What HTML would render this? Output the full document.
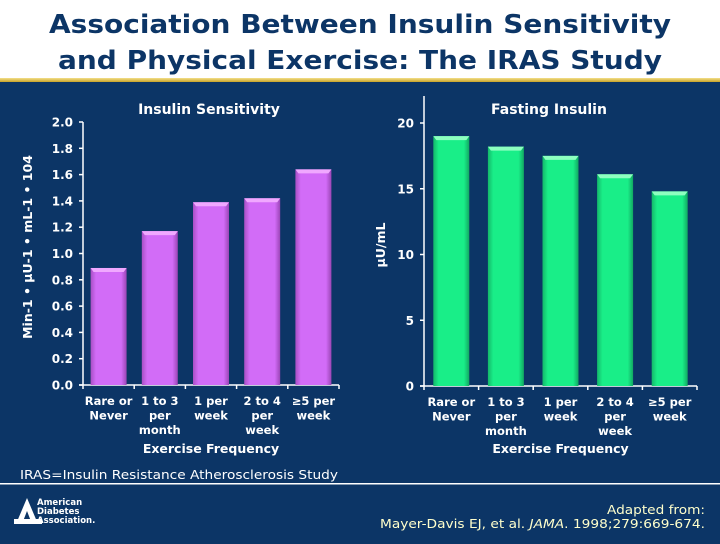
<!DOCTYPE html>
<html><head><meta charset="utf-8"><style>
html,body{margin:0;padding:0;}
body{width:720px;height:540px;background:#0c3566;overflow:hidden;font-family:"DejaVu Sans",sans-serif;}
svg text{font-family:"DejaVu Sans","Liberation Sans",sans-serif;}
</style></head><body>
<svg width="720" height="540" xmlns="http://www.w3.org/2000/svg">
<defs>
<linearGradient id="pg" x1="0" x2="1"><stop offset="0" stop-color="#a84fc4"/><stop offset="0.15" stop-color="#d26cf7"/><stop offset="0.85" stop-color="#d26cf7"/><stop offset="1" stop-color="#9a45b5"/></linearGradient>
<linearGradient id="gg" x1="0" x2="1"><stop offset="0" stop-color="#14b86a"/><stop offset="0.15" stop-color="#19ee88"/><stop offset="0.85" stop-color="#19ee88"/><stop offset="1" stop-color="#12a862"/></linearGradient>
<linearGradient id="gold" x1="0" x2="0" y1="0" y2="1"><stop offset="0" stop-color="#f3e08a"/><stop offset="1" stop-color="#c9a227"/></linearGradient>
</defs>
<rect x="0" y="0" width="720" height="78" fill="#ffffff"/>
<rect x="0" y="78" width="720" height="4" fill="url(#gold)"/>
<text x="360" y="33" text-anchor="middle" font-size="26" font-weight="bold" fill="#0c3566" textLength="622" lengthAdjust="spacingAndGlyphs">Association Between Insulin Sensitivity</text>
<text x="360" y="69" text-anchor="middle" font-size="26" font-weight="bold" fill="#0c3566" textLength="604" lengthAdjust="spacingAndGlyphs">and Physical Exercise: The IRAS Study</text>
<g id="c1"></g>
<g id="c2"></g>
<text x="20" y="479" font-size="12" fill="#ffffff" textLength="318" lengthAdjust="spacingAndGlyphs">IRAS=Insulin Resistance Atherosclerosis Study</text>
<rect x="0" y="483" width="720" height="1.5" fill="#ffffff"/>
<g>
<polygon points="16,524 27,498 38,524 32,524 27,511 22,524" fill="#fff"/>
<rect x="14" y="519" width="28" height="5" fill="#fff"/>
<text x="37" y="505" font-size="8.5" font-weight="bold" fill="#fff">American</text>
<text x="37" y="514" font-size="8.5" font-weight="bold" fill="#fff">Diabetes</text>
<text x="37" y="523" font-size="8.5" font-weight="bold" fill="#fff">Association.</text>
</g>
<text x="705" y="514" text-anchor="end" font-size="12" fill="#ffffcc" textLength="98" lengthAdjust="spacingAndGlyphs">Adapted from:</text>
<text x="705" y="528" text-anchor="end" font-size="12" fill="#ffffcc" textLength="325" lengthAdjust="spacingAndGlyphs">Mayer-Davis EJ, et al. <tspan font-style="italic">JAMA</tspan>. 1998;279:669-674.</text>
</svg>
<script>
const categories=[["Rare or","Never"],["1 to 3","per","month"],["1 per","week"],["2  to 4","per","week"],["≥5 per","week"]];
const sensitivityValues=[0.89,1.17,1.39,1.42,1.64];
const sensitivityTicks=["0.0","0.2","0.4","0.6","0.8","1.0","1.2","1.4","1.6","1.8","2.0"];
const insulinValues=[19.0,18.2,17.5,16.1,14.8];
const insulinTicks=["0","5","10","15","20"];
const NS="http://www.w3.org/2000/svg";
function mk(p,t,a,txt){const e=document.createElementNS(NS,t);for(const k in a)e.setAttribute(k,a[k]);if(txt!==undefined)e.textContent=txt;p.appendChild(e);return e;}
function chart(g,o){
 const y=v=>o.y0-(v/o.max)*(o.y0-o.yTop);
 const band=(o.x1-o.x0)/categories.length;
 const ax=mk(g,'line',{x1:o.x0,x2:o.x0,y1:o.axisTop,y2:o.y0,stroke:'#fff','stroke-width':1.5});
 
 
 const bx=mk(g,'line',{x1:o.x0-4,x2:o.x1,y1:o.y0,y2:o.y0,stroke:'#fff','stroke-width':1.5});
 
 
 o.ticks.forEach(t=>{const v=parseFloat(t),yy=y(v);
  mk(g,'line',{x1:o.x0-4,x2:o.x0,y1:yy,y2:yy,stroke:'#fff','stroke-width':1.5});
  const tl=mk(g,'text',{x:o.x0-10,y:yy+4.5,'text-anchor':'end','font-size':12,'font-weight':'bold',fill:'#fff'},t);
  
  
 });
 for(let i=0;i<=categories.length;i++){const xx=o.x0+i*band;mk(g,'line',{x1:xx,x2:xx,y1:o.y0,y2:o.y0+4,stroke:'#fff','stroke-width':1.5});}
 o.values.forEach((v,i)=>{const cx=o.x0+band*(i+0.5),w=36,top=y(v);
  const r=mk(g,'rect',{x:cx-w/2,y:top,width:w,height:o.y0-top,fill:o.fill});
  
  
  mk(g,'polygon',{points:`${cx-w/2},${top} ${cx+w/2},${top} ${cx+w/2-3},${top+4} ${cx-w/2+3},${top+4}`,fill:o.hi});
  categories[i].forEach((ln,j)=>{const cl=mk(g,'text',{x:cx,y:o.y0+20+j*14.5,'text-anchor':'middle','font-size':11.5,'font-weight':'bold',fill:'#fff'},ln);
   
   });
 });
 const tt=mk(g,'text',{x:o.titleX,y:114,'text-anchor':'middle','font-size':14,'font-weight':'bold',fill:'#fff'},o.title);
 
 
 const xt=mk(g,'text',{x:(o.x0+o.x1)/2,y:453,'text-anchor':'middle','font-size':12.5,'font-weight':'bold',fill:'#fff'},'Exercise Frequency');
 
 
 const yt=mk(g,'text',{x:0,y:0,'text-anchor':'middle','font-size':12.5,'font-weight':'bold',fill:'#fff',transform:`translate(${o.ytX},${o.ytY}) rotate(-90)`},o.ytitle);
 
 
}
chart(document.getElementById('c1'),{x0:83,x1:339,y0:385,yTop:122,axisTop:122,max:2,ticks:sensitivityTicks,values:sensitivityValues,fill:'url(#pg)',hi:'#f0a8ff',title:'Insulin Sensitivity',titleX:209,ytitle:'Min-1 • µU-1 • mL-1 • 104',ytX:32,ytY:247});
chart(document.getElementById('c2'),{x0:424,x1:697,y0:386,yTop:123,axisTop:96,max:20,ticks:insulinTicks,values:insulinValues,fill:'url(#gg)',hi:'#8dffc0',title:'Fasting Insulin',titleX:549,ytitle:'µU/mL',ytX:385,ytY:245});
</script>
</body></html>
